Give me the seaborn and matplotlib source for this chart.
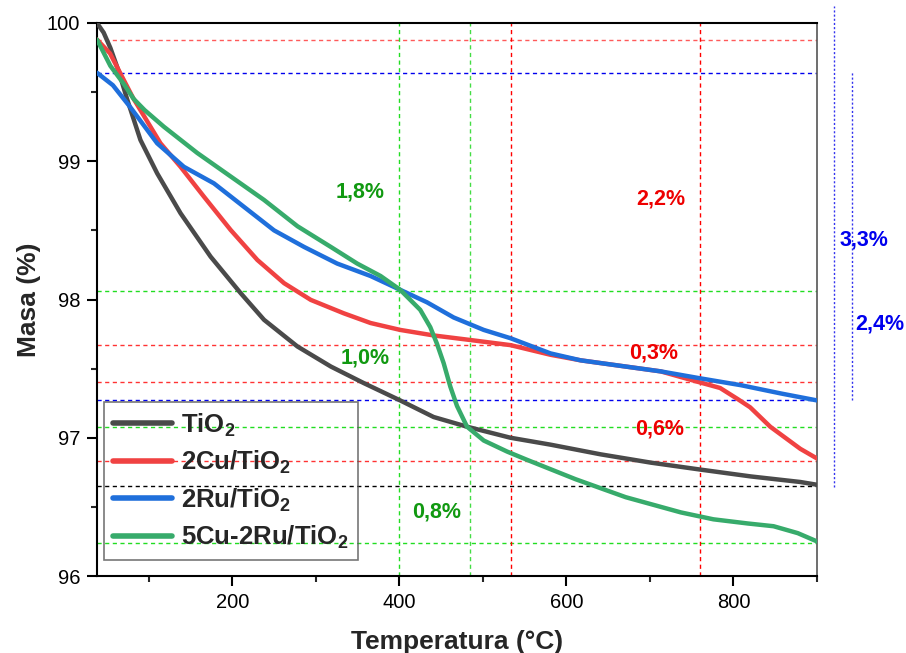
import numpy as np
import pandas as pd
import matplotlib
matplotlib.use("Agg")
import matplotlib.pyplot as plt
import seaborn as sns
from matplotlib.ticker import MultipleLocator

# ---------------- data ----------------
series_names = ["TiO$_2$", "2Cu/TiO$_2$", "2Ru/TiO$_2$", "5Cu-2Ru/TiO$_2$"]
series_colors = ["#4A4A4A", "#F04242", "#1F6FDB", "#37AB6B"]

t_tio2 = [38, 46, 54, 64, 74, 90, 110, 138, 174, 210, 238, 278, 318, 357.5, 401, 441, 481,
          533, 581, 641, 701, 760, 821, 880, 900]
m_tio2 = [100.0, 99.93, 99.82, 99.65, 99.45, 99.154, 98.913, 98.624, 98.31, 98.046,
          97.853, 97.66, 97.515, 97.395, 97.27, 97.15, 97.08, 97.00, 96.95, 96.88, 96.82,
          96.77, 96.72, 96.68, 96.66]

t_cu = [38, 53.6, 81, 90, 114, 138, 166, 198, 230, 262, 294, 333.5, 365.5, 401, 441,
        481, 533, 581, 617, 665, 713, 760, 784, 805, 820, 844, 880, 900]
m_cu = [99.88, 99.78, 99.46, 99.37, 99.13, 98.96, 98.744, 98.503, 98.286, 98.118, 97.997,
        97.90, 97.83, 97.78, 97.74, 97.71, 97.67, 97.60, 97.56, 97.52, 97.48, 97.40,
        97.36, 97.28, 97.22, 97.08, 96.92, 96.85]

t_ru = [38, 57, 78, 110, 142, 178, 214, 250, 286, 325.5, 365.5, 401, 433, 465, 501, 533,
        581, 617, 665, 713, 760, 809, 857, 900]
m_ru = [99.64, 99.55, 99.39, 99.13, 98.96, 98.84, 98.67, 98.50, 98.38, 98.26, 98.17,
        98.07, 97.98, 97.87, 97.78, 97.72, 97.61, 97.56, 97.52, 97.48, 97.43, 97.38,
        97.32, 97.27]

t_curu = [38, 54, 70, 82, 95, 118, 158, 198, 238, 278, 318, 349.5, 377.5, 401, 425, 437,
          445, 453, 461, 469, 481, 501, 529, 553, 611, 671, 737, 776, 817, 848, 877, 900]
m_curu = [99.88, 99.69, 99.56, 99.45, 99.37, 99.25, 99.06, 98.89, 98.72, 98.53, 98.38,
          98.26, 98.17, 98.07, 97.925, 97.80, 97.68, 97.54, 97.37, 97.23, 97.08, 96.98,
          96.90, 96.84, 96.70, 96.57, 96.46, 96.41, 96.38, 96.36, 96.31, 96.25]

# reference lines
hline_values = [99.88, 99.64, 98.06, 97.67, 97.40, 97.27, 97.08, 96.83, 96.65, 96.24]
hline_colors = ["#FF5A5A", "#0000EE", "#22DD22", "#FF3333", "#FF3333", "#0000EE",
                "#22DD22", "#FF3333", "#000000", "#22DD22"]
vline_values = [400, 485, 534, 760]
vline_colors = ["#22DD22", "#44DD44", "#FF0000", "#FF0000"]

# annotations
ann_texts = ["1,8%", "1,0%", "0,8%", "2,2%", "0,3%", "0,6%", "3,3%", "2,4%"]
ann_x = [353, 359, 445, 713, 705, 711, 956, 975]
ann_y = [98.78, 97.58, 96.46, 98.73, 97.61, 97.06, 98.43, 97.82]
ann_colors = ["#119911", "#119911", "#119911", "#EE0000", "#EE0000", "#EE0000",
              "#0000EE", "#0000EE"]

# outside blue span markers (x, y_low, y_high)
span_x = [920, 941.5]
span_low = [96.645, 97.27]
span_high = [100.12, 99.645]

# ---------------- style ----------------
sns.set_style("ticks")
plt.rcParams["font.family"] = ["Liberation Sans", "DejaVu Sans"]
plt.rcParams["mathtext.fontset"] = "custom"
plt.rcParams["mathtext.rm"] = "Liberation Sans:bold"
plt.rcParams["mathtext.it"] = "Liberation Sans:bold"
plt.rcParams["mathtext.bf"] = "Liberation Sans:bold"
plt.rcParams["mathtext.default"] = "regular"

fig = plt.figure(figsize=(9.06, 6.53), dpi=100)
ax = fig.add_axes([97 / 906, 1 - 576 / 653, (817 - 97) / 906, (576 - 23) / 653])

dash = (0, (3, 2.5))
for v, c in zip(hline_values, hline_colors):
    ax.axhline(v, color=c, lw=1.0, ls=dash, zorder=1)
for v, c in zip(vline_values, vline_colors):
    ax.axvline(v, color=c, lw=1.0, ls=dash, zorder=1)

frames = []
for name, t, m in [(series_names[0], t_tio2, m_tio2), (series_names[1], t_cu, m_cu),
                   (series_names[2], t_ru, m_ru), (series_names[3], t_curu, m_curu)]:
    frames.append(pd.DataFrame({"T": t, "M": m, "Muestra": name}))
df = pd.concat(frames, ignore_index=True)

sns.lineplot(data=df, x="T", y="M", hue="Muestra", hue_order=series_names,
             palette=dict(zip(series_names, series_colors)), sort=False,
             estimator=None, lw=3.2, ax=ax, zorder=3, legend=False)
for ln in ax.get_lines():
    ln.set_solid_joinstyle("round")
    ln.set_solid_capstyle("round")

for s, x, y, c in zip(ann_texts, ann_x, ann_y, ann_colors):
    ax.text(x, y, s, color=c, fontsize=15.5, fontweight="bold", ha="center",
            va="center", clip_on=False)

for x, lo, hi in zip(span_x, span_low, span_high):
    ax.plot([x, x], [lo, hi], color="#3333EE", lw=1.0, ls=(0, (1.5, 1.5)),
            clip_on=False)

ax.set_xlim(38, 900)
ax.set_ylim(96, 100)
ax.xaxis.set_major_locator(MultipleLocator(200))
ax.xaxis.set_minor_locator(MultipleLocator(100))
ax.yaxis.set_major_locator(MultipleLocator(1))
ax.yaxis.set_minor_locator(MultipleLocator(0.5))
ax.tick_params(which="major", direction="out", length=7, width=1.5, labelsize=14.5,
               colors="black", pad=5)
ax.tick_params(which="minor", direction="out", length=4, width=1.5)
for sp in ax.spines.values():
    sp.set_linewidth(1.5)
    sp.set_color("black")
ax.spines["right"].set_color("#555555")
ax.spines["right"].set_linewidth(1.2)

ax.set_xlabel("Temperatura (°C)", fontsize=19, fontweight="bold", labelpad=13)
ax.set_ylabel("Masa (%)", fontsize=19, fontweight="bold", labelpad=4)

handles = [plt.Line2D([], [], color=c, lw=4) for c in series_colors]
leg = ax.legend(handles, series_names, loc="lower left",
                bbox_to_anchor=(7 / 720, 16 / 553), borderaxespad=0,
                prop={"weight": "bold", "size": 18.5}, frameon=True,
                fancybox=False, handlelength=2.3, handletextpad=0.35,
                borderpad=0.35, labelspacing=0.4)
leg.get_frame().set_facecolor("none")
leg.get_frame().set_edgecolor("#555555")
leg.get_frame().set_linewidth(1.2)
leg.set_zorder(5)

fig.savefig("out.png", dpi=100)
